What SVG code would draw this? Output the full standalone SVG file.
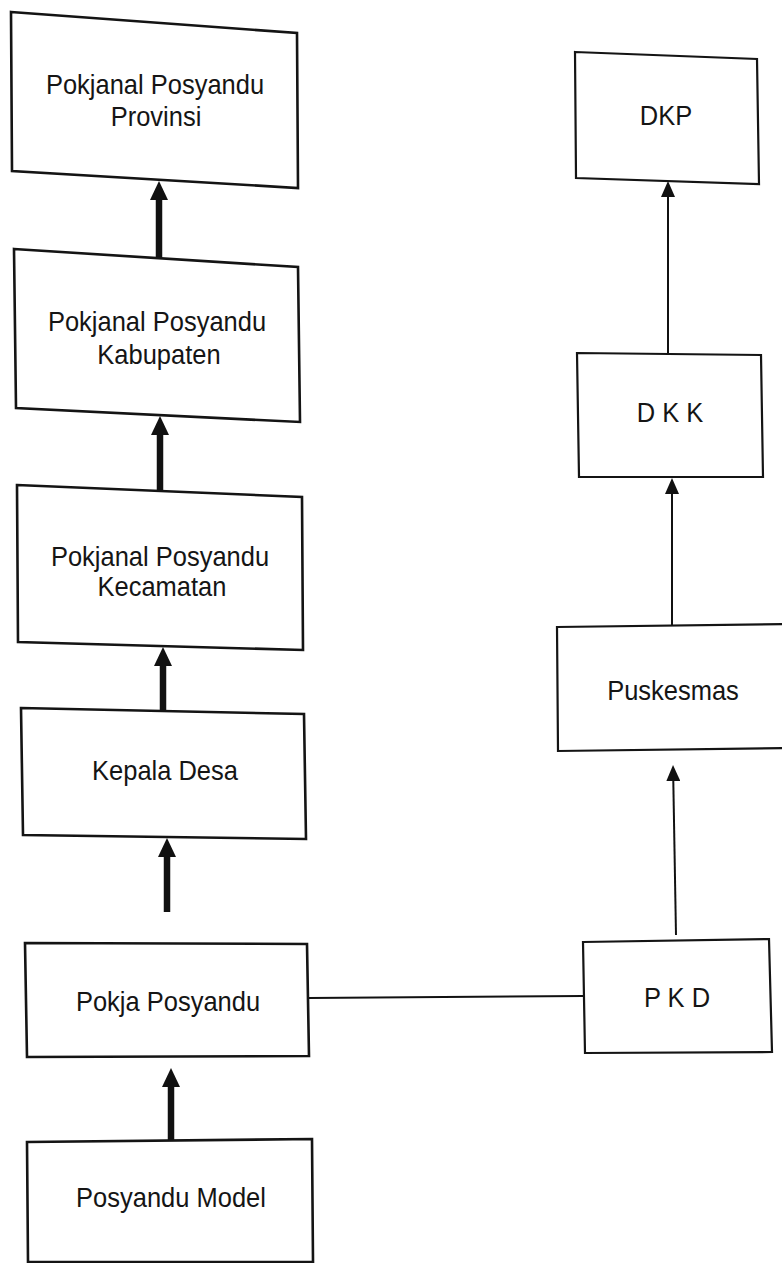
<svg xmlns="http://www.w3.org/2000/svg" width="782" height="1263" viewBox="0 0 782 1263">
<style>
.bl{fill:#fff;stroke:#141414;stroke-width:2.6;stroke-linejoin:miter}
.br{fill:#fff;stroke:#141414;stroke-width:2.2;stroke-linejoin:miter}
.t{font-family:"Liberation Sans",Arial,sans-serif;font-size:25.5px;fill:#151515;text-anchor:middle}
.thick{stroke:#111;stroke-width:6.5;fill:none}
.thin{stroke:#111;stroke-width:2;fill:none}
</style>
<defs>
<marker id="hThick" markerUnits="userSpaceOnUse" viewBox="0 0 19 18" refX="0" refY="9" markerWidth="19" markerHeight="18" orient="auto">
<path d="M0,0 L19,9 L0,18 z" fill="#111"/>
</marker>
<marker id="hThin" markerUnits="userSpaceOnUse" viewBox="0 0 16 14" refX="0" refY="7" markerWidth="16" markerHeight="14" orient="auto">
<path d="M0,0 L16,7 L0,14 z" fill="#111"/>
</marker>
</defs>
<rect width="782" height="1263" fill="#fff"/>
<g id="connectors">
<line class="thick" x1="159" y1="258" x2="159" y2="200" marker-end="url(#hThick)"/>
<line class="thick" x1="160" y1="491" x2="160" y2="435" marker-end="url(#hThick)"/>
<line class="thick" x1="163" y1="711" x2="163" y2="666" marker-end="url(#hThick)"/>
<line class="thick" x1="167" y1="912" x2="167" y2="857" marker-end="url(#hThick)"/>
<line class="thick" x1="171" y1="1140" x2="171" y2="1087" marker-end="url(#hThick)"/>
<line class="thin" x1="668" y1="354" x2="668" y2="197" marker-end="url(#hThin)"/>
<line class="thin" x1="672" y1="626" x2="672" y2="494" marker-end="url(#hThin)"/>
<line class="thin" x1="676" y1="935" x2="673.3" y2="781" marker-end="url(#hThin)"/>
<line class="thin" x1="309" y1="998" x2="583" y2="996"/>
</g>
<g id="n-provinsi">
<polygon class="bl" points="11,12 297,33 298,188 12,171"/>
<text class="t" transform="translate(155 94) scale(1 1.12)">Pokjanal Posyandu</text>
<text class="t" transform="translate(156 126) scale(1 1.12)">Provinsi</text>
</g>
<g id="n-kabupaten">
<polygon class="bl" points="14,249 298,267 300,422 16,408"/>
<text class="t" transform="translate(157 331) scale(1 1.12)">Pokjanal Posyandu</text>
<text class="t" transform="translate(159 364) scale(1 1.12)">Kabupaten</text>
</g>
<g id="n-kecamatan">
<polygon class="bl" points="17,485 302,497 303,650 18,642"/>
<text class="t" transform="translate(160 566) scale(1 1.12)">Pokjanal Posyandu</text>
<text class="t" transform="translate(162 596) scale(1 1.12)">Kecamatan</text>
</g>
<g id="n-kepala-desa">
<polygon class="bl" points="21,708 304,714 306,839 23,835"/>
<text class="t" transform="translate(165 780) scale(1 1.08)">Kepala Desa</text>
</g>
<g id="n-pokja">
<polygon class="bl" points="25,943 307,944 309,1056 27,1057"/>
<text class="t" transform="translate(168 1011) scale(1 1.08)">Pokja Posyandu</text>
</g>
<g id="n-posyandu-model">
<polygon class="bl" points="27,1142 312,1139 313,1262 28,1262"/>
<text class="t" transform="translate(171 1207) scale(1 1.08)">Posyandu Model</text>
</g>
<g id="n-dkp">
<polygon class="br" points="575,52 757,59 759,184 576,178"/>
<text class="t" transform="translate(666 125) scale(1 1.08)">DKP</text>
</g>
<g id="n-dkk">
<polygon class="br" points="577,353 761,355 763,477 579,477"/>
<text class="t" transform="translate(670 422) scale(1 1.08)">D K K</text>
</g>
<g id="n-puskesmas">
<polygon class="br" points="557,627 790,624 790,748 558,751"/>
<text class="t" transform="translate(673 700) scale(1 1.08)">Puskesmas</text>
</g>
<g id="n-pkd">
<polygon class="br" points="583,942 769,939 772,1052 585,1053"/>
<text class="t" transform="translate(677 1007) scale(1 1.08)">P K D</text>
</g>
</svg>
